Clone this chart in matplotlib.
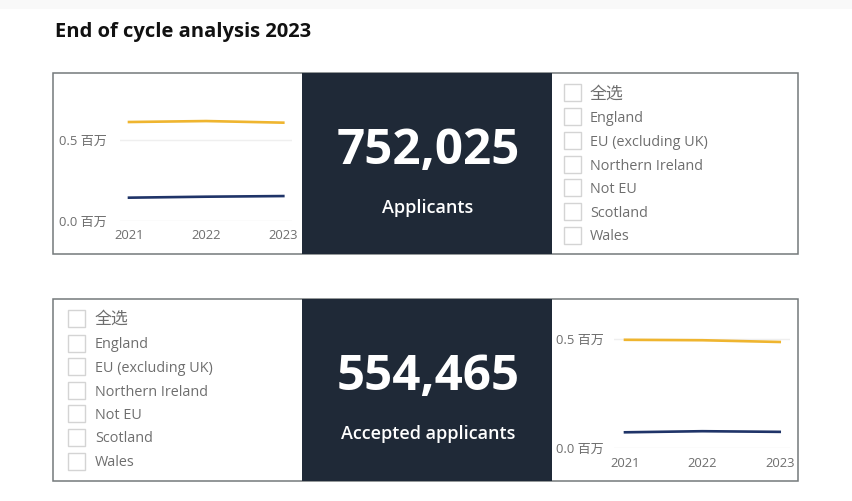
import matplotlib
matplotlib.use("Agg")
import matplotlib.pyplot as plt
from matplotlib.patches import Rectangle

plt.rcParams["font.family"] = ["Open Sans", "Noto Sans CJK SC", "DejaVu Sans"]

W, H = 853, 501

years = [2021, 2022, 2023]
year_labels = ["2021", "2022", "2023"]
y_ticks = [0.0, 0.5]
y_tick_labels = ["0.0 百万", "0.5 百万"]

applicants_yellow = [0.611, 0.617, 0.607]
applicants_navy = [0.144, 0.150, 0.154]
accepted_yellow = [0.495, 0.493, 0.485]
accepted_navy = [0.073, 0.078, 0.075]

slicer_items = ["全选", "England", "EU (excluding UK)", "Northern Ireland",
                "Not EU", "Scotland", "Wales"]

title = "End of cycle analysis 2023"
applicants_total = "752,025"
applicants_label = "Applicants"
accepted_total = "554,465"
accepted_label = "Accepted applicants"

YELLOW = "#efb52f"
NAVY = "#1f3468"
DARK = "#1f2937"
GREY = "#6e6e6e"
BORDER = "#74797b"

fig = plt.figure(figsize=(W / 100, H / 100), dpi=100, facecolor="white")

# whole figure in pixels, y going down
bg = fig.add_axes([0, 0, 1, 1])
bg.set_xlim(0, W)
bg.set_ylim(H, 0)
bg.axis("off")

bg.add_patch(Rectangle((0, 0), W, 9, color="#f9f9f9", lw=0))
bg.text(55, 32, title, fontsize=14.5, fontweight="bold", color="#111111",
        ha="left", va="center")


def panel(top, bottom):
    bg.add_patch(Rectangle((53, top), 745, bottom - top, fc="white", ec=BORDER, lw=1.1))
    bg.add_patch(Rectangle((302, top), 250, bottom - top, fc=DARK, lw=0))


def kpi(value, label, y_value, y_label):
    bg.text(428, y_value, value, fontsize=35.5, fontweight="bold", color="white",
            ha="center", va="center")
    bg.text(428, y_label, label, fontsize=13, fontweight="semibold", color="white",
            ha="center", va="center")


def slicer(x_box, x_text, rows):
    for item, y in zip(slicer_items, rows):
        bg.add_patch(Rectangle((x_box, y - 8.5), 17, 17, fc="white", ec="#d4d4d4", lw=1))
        size = 12.2 if item == "全选" else 10.4
        bg.text(x_text, y + 2, item, fontsize=size, color=GREY, ha="left", va="center")


def line_chart(x0, x1, x_first, x_last, y_zero, y_half, yellow, navy, y_pad):
    # axes box runs along the gridlines, from 0 up past the top series
    top_val = 0.7
    y_top = y_zero - (y_zero - y_half) * top_val / 0.5
    px_per_year = (x_last - x_first) / (years[-1] - years[0])
    ax = fig.add_axes([x0 / W, 1 - y_zero / H, (x1 - x0) / W, (y_zero - y_top) / H])
    ax.patch.set_alpha(0)
    ax.plot(years, yellow, color=YELLOW, lw=1.9)
    ax.plot(years, navy, color=NAVY, lw=1.9)
    ax.set_xlim(years[0] - (x_first - x0) / px_per_year,
                years[-1] + (x1 - x_last) / px_per_year)
    ax.set_ylim(0, top_val)
    ax.set_xticks(years)
    ax.set_xticklabels(year_labels)
    ax.set_yticks(y_ticks)
    ax.set_yticklabels(y_tick_labels)
    ax.tick_params(length=0, labelsize=9.4, labelcolor=GREY)
    ax.tick_params(axis="x", pad=6)
    ax.tick_params(axis="y", pad=y_pad)
    ax.grid(axis="y", color="#efefef", lw=1)
    ax.set_axisbelow(True)
    for s in ax.spines.values():
        s.set_visible(False)


panel(73, 254)
panel(299, 481)

kpi(applicants_total, applicants_label, 152, 208)
kpi(accepted_total, accepted_label, 378, 434)

slicer(564, 590, [92.5, 116, 140, 164, 187.5, 211.5, 235])
slicer(68, 95, [318, 343, 366.5, 390, 413.5, 437, 461])

line_chart(120, 292, 129, 283.3, 221, 140, applicants_yellow, applicants_navy, 9.4)
line_chart(614, 790, 625, 779.7, 448.3, 338.7, accepted_yellow, accepted_navy, 7.2)

fig.savefig("out.png", dpi=100)
